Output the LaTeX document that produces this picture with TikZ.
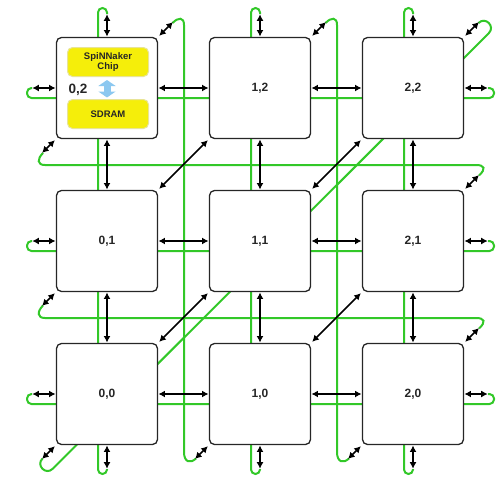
\documentclass[tikz,border=0pt]{standalone}
\usepackage{fontspec}
\setmainfont{Liberation Sans}
\usetikzlibrary{arrows.meta}
\definecolor{wire}{RGB}{50,200,40}
\definecolor{chipyellow}{RGB}{245,238,10}
\definecolor{chipedge}{RGB}{232,228,150}
\definecolor{linkblue}{RGB}{140,200,240}
\begin{document}
\begin{tikzpicture}[x=1pt,y=-1pt,
  chipbox/.style={draw=black!85, line width=1.3pt, fill=white, rounded corners=5pt,
    minimum width=101pt, minimum height=101pt, inner sep=0pt,
    font=\bfseries\fontsize{12}{12}\selectfont, text=black!85},
  rambox/.style={draw=chipedge, line width=1pt, fill=chipyellow, rounded corners=5pt,
    minimum width=81pt, minimum height=29pt, inner sep=0pt, align=center,
    font=\bfseries\fontsize{9.5}{10.5}\selectfont, text=black!85},
  link/.style={black, line width=1.7pt, {Latex[length=6.5pt,width=7pt]}-{Latex[length=6.5pt,width=7pt]},
    shorten <=0.3pt, shorten >=0.3pt},
  dlink/.style={link, shorten <=1.5pt, shorten >=1.5pt},
  clink/.style={link, shorten <=1.5pt},
  wirepath/.style={wire, line width=2pt, rounded corners=4.5pt},
  wirecurve/.style={wire, line width=2pt}]
\useasboundingbox (0,0) rectangle (497,477);

% ---- green wrap-around wires ----
\foreach \y in {88,241,394}{
  \draw[wirepath] (32,\y) -- (27,\y) -- (27,{\y+10}) -- (494,{\y+10}) -- (494,\y) -- (488,\y);
}
\foreach \x in {107,260,413}{
  \draw[wirepath] (\x,14) -- (\x,8) -- ({\x-9},8) -- ({\x-9},474) -- (\x,474) -- (\x,469);
}
\draw[wirecurve] (43,153) .. controls (37,159) and (37,165) .. (45,165) -- (476,165)
  .. controls (485,165) and (486,169) .. (479,175.5);
\draw[wirecurve] (43,305.5) .. controls (37,311.5) and (37,318) .. (45,318) -- (476,318)
  .. controls (485,318) and (486,322) .. (479,328.5);
\draw[wirecurve] (172.5,23) .. controls (178.5,17) and (184,17) .. (184,25) -- (184,452)
  .. controls (184,462) and (190,464) .. (196,458.5);
\draw[wirecurve] (325.5,23) .. controls (331.5,17) and (337,17) .. (337,25) -- (337,452)
  .. controls (337,462) and (343,464) .. (349,458.5);
\draw[wirecurve] (42.5,458.5) .. controls (35.6,465.4) and (45.9,475.6) .. (52.75,468.75)
  -- (488.75,33.25) .. controls (495.6,26.4) and (485.4,16.1) .. (478.5,23);

% ---- chips ----
\node[chipbox] (b02) at (107,88) {};
\node[chipbox] (b12) at (260,88) {1,2};
\node[chipbox] (b22) at (413,88) {2,2};
\node[chipbox] (b01) at (107,241) {0,1};
\node[chipbox] (b11) at (260,241) {1,1};
\node[chipbox] (b21) at (413,241) {2,1};
\node[chipbox] (b00) at (107,394) {0,0};
\node[chipbox] (b10) at (260,394) {1,0};
\node[chipbox] (b20) at (413,394) {2,0};

% ---- detail of chip 0,2 ----
\node[rambox] (chip) at (108,62) {SpiNNaker\\Chip};
\node[rambox] (sdram) at (108,114) {SDRAM};
\node[font=\bfseries\fontsize{13.5}{13.5}\selectfont, text=black!85] (lbl02) at (78,90) {0,2};
\draw[linkblue, line width=7pt, {Triangle[length=6pt,width=17pt]}-{Triangle[length=6pt,width=17pt]},
  shorten <=3pt, shorten >=1.5pt] (chip.south -| 107,0) -- (sdram.north -| 107,0);

% ---- free ends of the links ----
\foreach \r/\y in {0/394,1/241,2/88}{
  \coordinate (L\r) at (32,\y);
  \coordinate (R\r) at (488,\y);
}
\foreach \c/\x in {0/107,1/260,2/413}{
  \coordinate (T\c) at (\x,14);
  \coordinate (B\c) at (\x,469);
}
\foreach \n in {02,12,22,21,20}{
  \coordinate (ne\n) at ([shift={(15,-15)}]b\n.north east);
}
\foreach \n in {02,01,00,10,20}{
  \coordinate (sw\n) at ([shift={(-14,14)}]b\n.south west);
}

% ---- links ----
\foreach \r in {0,1,2}{
  \draw[link] (b0\r.east) -- (b1\r.west);
  \draw[link] (b1\r.east) -- (b2\r.west);
  \draw[link] (L\r) -- (b0\r.west);
  \draw[link] (b2\r.east) -- (R\r);
}
\foreach \c in {0,1,2}{
  \draw[link] (b\c2.south) -- (b\c1.north);
  \draw[link] (b\c1.south) -- (b\c0.north);
  \draw[link] (T\c) -- (b\c2.north);
  \draw[link] (b\c0.south) -- (B\c);
}
\draw[dlink] (b01.north east) -- (b12.south west);
\draw[dlink] (b11.north east) -- (b22.south west);
\draw[dlink] (b00.north east) -- (b11.south west);
\draw[dlink] (b10.north east) -- (b21.south west);
\foreach \n in {02,12,22,21,20}{
  \draw[clink] (b\n.north east) -- (ne\n);
}
\foreach \n in {02,01,00,10,20}{
  \draw[clink] (b\n.south west) -- (sw\n);
}
\end{tikzpicture}
\end{document}
